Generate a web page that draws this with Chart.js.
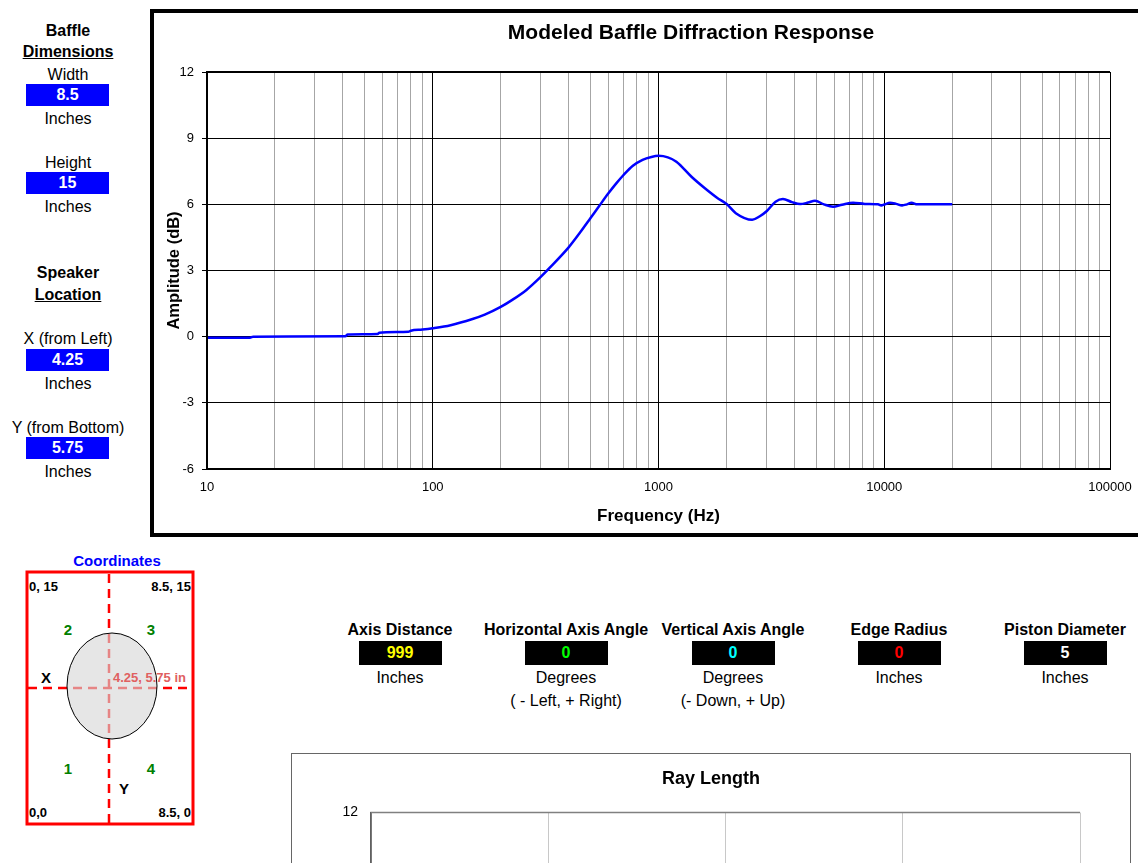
<!DOCTYPE html>
<html>
<head>
<meta charset="utf-8">
<script src="https://cdn.jsdelivr.net/npm/chart.js@4.4.0/dist/chart.umd.min.js"></script>
<style>
  html, body { margin: 0; padding: 0; width: 1138px; height: 863px; overflow: hidden; background: #fff; }
  body { position: relative; font-family: "Liberation Sans", Arial, sans-serif; color: #000; }
  .lbl { position: absolute; left: 0; width: 136px; text-align: center; font-size: 16px; line-height: 18px; }
  .hd { font-weight: bold; font-size: 16px; }
  .ul { text-decoration: underline; }
  .blue { position: absolute; left: 26px; width: 83px; height: 22px; background: #0000ff; color: #fff;
          font-weight: bold; font-size: 16px; line-height: 22px; text-align: center; }
  .param { position: absolute; width: 170px; text-align: center; font-size: 16px; line-height: 18px; }
  .param .t { font-weight: bold; white-space: nowrap; }
  .param .v { margin: 2px auto 4px; width: 83px; height: 24px; background: #000; font-weight: bold; line-height: 24px; }
  #mainBox { position: absolute; left: 150px; top: 9px; border: 4px solid #000; width: 1074px; height: 520px; }
  #rayBox { position: absolute; left: 291px; top: 753px; border: 1px solid #666; width: 838px; height: 400px; }
</style>
</head>
<body>

<!-- left input panel -->
<div class="lbl hd" style="top:22px">Baffle</div>
<div class="lbl hd ul" style="top:43px">Dimensions</div>
<div class="lbl" style="top:66px">Width</div>
<div class="blue" style="top:84px">8.5</div>
<div class="lbl" style="top:110px">Inches</div>
<div class="lbl" style="top:154px">Height</div>
<div class="blue" style="top:172px">15</div>
<div class="lbl" style="top:198px">Inches</div>
<div class="lbl hd" style="top:264px">Speaker</div>
<div class="lbl hd ul" style="top:286px">Location</div>
<div class="lbl" style="top:330px">X (from Left)</div>
<div class="blue" style="top:349px">4.25</div>
<div class="lbl" style="top:375px">Inches</div>
<div class="lbl" style="top:419px">Y (from Bottom)</div>
<div class="blue" style="top:437px">5.75</div>
<div class="lbl" style="top:463px">Inches</div>

<div id="mainBox"><canvas id="respChart" width="1074" height="520"></canvas></div>

<!-- coordinates sketch -->
<svg style="position:absolute;left:0;top:545px" width="220" height="290" font-family="Liberation Sans, Arial, sans-serif">
  <text x="117" y="21" text-anchor="middle" font-weight="bold" font-size="15" fill="#0000ff">Coordinates</text>
  <rect x="27" y="27" width="166" height="252" fill="#fff" stroke="#ff0000" stroke-width="3"/>
  <line x1="109" y1="29" x2="109" y2="278" stroke="#ff0000" stroke-width="2.5" stroke-dasharray="9,6"/>
  <line x1="28" y1="143" x2="192" y2="143" stroke="#ff0000" stroke-width="2.5" stroke-dasharray="9,6"/>
  <ellipse cx="112" cy="141" rx="45" ry="53" fill="rgba(215,215,215,0.62)" stroke="#000" stroke-width="1"/>
  <g font-weight="bold" font-size="13">
    <text x="29" y="46">0, 15</text>
    <text x="191" y="46" text-anchor="end">8.5, 15</text>
    <text x="29" y="272">0,0</text>
    <text x="191" y="272" text-anchor="end">8.5, 0</text>
    <text x="113" y="137" fill="#e06060">4.25, 5.75 in</text>
  </g>
  <g font-weight="bold" font-size="15" fill="#008000" text-anchor="middle">
    <text x="68" y="90">2</text>
    <text x="151" y="90">3</text>
    <text x="68" y="229">1</text>
    <text x="151" y="229">4</text>
  </g>
  <g font-weight="bold" font-size="15">
    <text x="46" y="138" text-anchor="middle">X</text>
    <text x="124" y="249" text-anchor="middle">Y</text>
  </g>
</svg>

<!-- parameter boxes -->
<div class="param" style="left:315px;top:621px"><div class="t">Axis Distance</div><div class="v" style="color:#ffff00">999</div><div>Inches</div></div>
<div class="param" style="left:481px;top:621px"><div class="t">Horizontal Axis Angle</div><div class="v" style="color:#00ff00">0</div><div>Degrees</div><div style="margin-top:5px">( - Left, + Right)</div></div>
<div class="param" style="left:648px;top:621px"><div class="t">Vertical Axis Angle</div><div class="v" style="color:#00ffff">0</div><div>Degrees</div><div style="margin-top:5px">(- Down, + Up)</div></div>
<div class="param" style="left:814px;top:621px"><div class="t">Edge Radius</div><div class="v" style="color:#ff0000">0</div><div>Inches</div></div>
<div class="param" style="left:980px;top:621px"><div class="t">Piston Diameter</div><div class="v" style="color:#ffffff">5</div><div>Inches</div></div>

<div id="rayBox"><canvas id="rayChart" width="838" height="400"></canvas></div>

<script>
// baffle step response
const freqHz = [10, 15.5, 16, 41, 42, 57, 58, 78, 80, 90, 100, 120, 150, 170, 200, 226, 260, 300, 330,
  400, 450, 500, 550, 600, 650, 700, 770, 850, 930, 1000, 1100, 1200, 1400, 1600, 1816, 2010, 2200, 2600,
  2800, 3020, 3300, 3560, 3900, 4240, 4600, 4935, 5400, 5930, 6500, 7280, 8200, 9380, 9700, 10000,
  10600, 11300, 12000, 12600, 13200, 14000, 20000];
const amplitudeDb = [-0.05, -0.05, 0, 0.02, 0.1, 0.12, 0.18, 0.22, 0.27, 0.32, 0.38, 0.52, 0.8, 1.0, 1.35, 1.68, 2.12, 2.7, 3.13,
  4.05, 4.73, 5.38, 5.97, 6.5, 6.95, 7.33, 7.75, 8.02, 8.15, 8.2, 8.13, 7.93, 7.25, 6.74, 6.3, 6.0, 5.6, 5.3,
  5.45, 5.7, 6.12, 6.24, 6.1, 6.01, 6.08, 6.16, 6.0, 5.89, 5.98, 6.07, 6.02, 6.0, 5.95, 5.99,
  6.07, 6.02, 5.95, 6.0, 6.07, 6.0, 6.0];

const decades = [10, 100, 1000, 10000, 100000];
const minorSteps = [2, 3, 4, 5, 6, 7, 8, 9];
const yTicks = [-6, -3, 0, 3, 6, 9, 12];

const gridFreqs = [];
decades.forEach(d => {
  gridFreqs.push(d);
  if (d < 100000) minorSteps.forEach(m => gridFreqs.push(d * m));
});

Chart.defaults.font.family = '"Liberation Sans", Arial, sans-serif';
Chart.defaults.color = '#000';

const frame = {
  id: 'frame',
  afterDraw(chart, args, opts) {
    const a = chart.chartArea, c = chart.ctx;
    c.save();
    c.strokeStyle = opts.color;
    c.lineWidth = opts.width;
    c.beginPath();
    c.moveTo(a.left, a.bottom); c.lineTo(a.left, a.top); c.lineTo(a.right, a.top);
    c.stroke();
    c.restore();
  }
};

// empty axis on the right, only to reserve room so the title centres like the sheet
function spacer(w) {
  return {
    position: 'right',
    afterFit: s => { s.width = w; },
    ticks: { display: false },
    grid: { display: false },
    border: { display: false }
  };
}

new Chart(document.getElementById('respChart'), {
  type: 'scatter',
  data: {
    datasets: [{
      label: 'Response',
      data: freqHz.map((f, i) => ({ x: f, y: amplitudeDb[i] })),
      showLine: true,
      borderColor: '#0000ff',
      borderWidth: 2.5,
      pointRadius: 0,
      cubicInterpolationMode: 'monotone'
    }]
  },
  options: {
    responsive: false,
    animation: false,
    plugins: {
      legend: { display: false },
      tooltip: { enabled: false },
      title: {
        display: true,
        text: 'Modeled Baffle Diffraction Response',
        font: { size: 21, weight: 'bold' },
        color: '#000',
        padding: { top: 8, bottom: 25.8 }
      },
      frame: { color: '#000', width: 2 }
    },
    scales: {
      x: {
        type: 'logarithmic',
        min: 10,
        max: 100000,
        afterBuildTicks: s => { s.ticks = gridFreqs.map(v => ({ value: v })); },
        afterFit: s => { s.height = 64; },
        ticks: {
          autoSkip: false,
          maxRotation: 0,
          padding: 11,
          font: { size: 13 },
          callback: v => decades.includes(v) ? String(v) : ''
        },
        grid: {
          drawTicks: false,
          color: ctx => (ctx.tick && decades.includes(ctx.tick.value)) ? '#000' : '#a6a6a6',
          lineWidth: 1
        },
        border: { color: '#000', width: 2 },
        title: {
          display: true,
          text: 'Frequency (Hz)',
          font: { size: 17, weight: 'bold' },
          padding: { top: 0, bottom: 6 }
        }
      },
      y: {
        min: -6,
        max: 12,
        afterBuildTicks: s => { s.ticks = yTicks.map(v => ({ value: v })); },
        afterFit: s => { s.width = 53; },
        ticks: { padding: 8, font: { size: 13 } },
        grid: { color: '#000', tickColor: '#000', tickLength: 5, lineWidth: 1 },
        border: { color: '#000', width: 2 },
        title: {
          display: true,
          text: 'Amplitude (dB)',
          font: { size: 16.5, weight: 'bold' },
          padding: { top: 11, bottom: 0 }
        }
      },
      pad: spacer(1074 - 956)
    }
  },
  plugins: [frame]
});

// ray length chart (only its top is on screen)
const rayX = [];
const rayY = [];
const rayYTicks = [0, 6, 12];

new Chart(document.getElementById('rayChart'), {
  type: 'scatter',
  data: { datasets: [{ label: 'Ray Length', data: rayX.map((x, i) => ({ x, y: rayY[i] })), showLine: true, pointRadius: 0 }] },
  options: {
    responsive: false,
    animation: false,
    plugins: {
      legend: { display: false },
      tooltip: { enabled: false },
      title: {
        display: true,
        text: 'Ray Length',
        font: { size: 18, weight: 'bold' },
        color: '#000',
        padding: { top: 14, bottom: 23 }
      },
      frame: { color: '#808080', width: 1.5 }
    },
    scales: {
      x: {
        min: 0, max: 4,
        ticks: { stepSize: 1, display: false },
        grid: { color: '#c8c8c8', drawTicks: false },
        border: { display: false }
      },
      y: {
        min: 0, max: 12,
        afterBuildTicks: s => { s.ticks = rayYTicks.map(v => ({ value: v })); },
        afterFit: s => { s.width = 79; },
        ticks: { padding: 6, font: { size: 14 } },
        grid: { display: false, drawOnChartArea: false, tickColor: '#000', tickLength: 7 },
        border: { color: '#000', width: 1.5 }
      },
      pad: spacer(50)
    }
  },
  plugins: [frame]
});
</script>
</body>
</html>
